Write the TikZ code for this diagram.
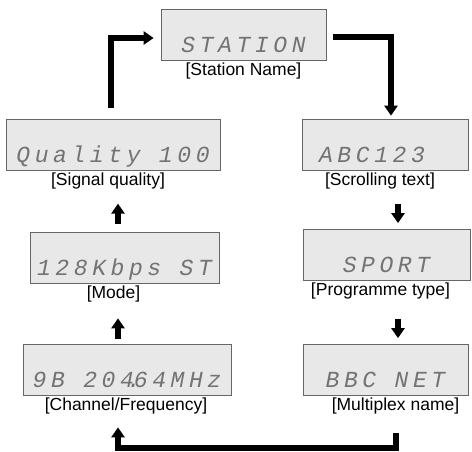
\documentclass[tikz,border=0pt]{standalone}
\usepackage{fontspec}
\setmainfont{Liberation Sans}
\newfontfamily\lcdfont[LetterSpace=20]{Liberation Mono}
\usetikzlibrary{positioning,arrows.meta,shadows}
\begin{document}
\begin{tikzpicture}[x=1pt,y=1pt,
  lcd/.style={rectangle, draw=black!60, line width=0.7pt, fill=black!9,
    drop shadow={shadow xshift=0.9pt, shadow yshift=-0.9pt, fill=black!75, opacity=1},
    inner xsep=0pt, inner ysep=0pt, text height=43pt, text depth=8pt,
    text=black!55, font=\lcdfont\fontsize{23}{23}\selectfont\itshape},
  lab/.style={inner sep=0pt, font=\fontsize{17.5}{17.5}\selectfont},
  flow/.style={line width=5.5pt, -{Triangle[width=13pt,length=10pt]}}]
\useasboundingbox (0,0) rectangle (472,451);
\node[lcd, minimum width=165pt] (station) at (243.5,416) {STATION};
\node[lcd, minimum width=214pt] (quality) at (113,306.5) {Quality 100};
\node[lcd, minimum width=166pt] (abc) at (385,306.5) {ABC123\kern26pt};
\node[lcd, minimum width=189pt] (mode) at (124.5,193.5) {128Kbps ST};
\node[lcd, minimum width=167pt] (sport) at (386.5,196) {SPORT};
\node[lcd, minimum width=208pt] (chan) at (127,81.5) {9B 204\makebox[0pt]{.}64MHz};
\node[lcd, minimum width=165pt] (multi) at (385.5,81) {BBC NET};
\node[lab, below=2pt of station] (stationlab) {[Station Name]};
\node[lab, below=2pt of quality, xshift=-5pt] (qualitylab) {[Signal quality]};
\node[lab, below=2pt of abc, xshift=-5pt] (abclab) {[Scrolling text]};
\node[lab, below=2pt of mode, xshift=-11pt] (modelab) {[Mode]};
\node[lab, below=2pt of sport, xshift=-6pt] (sportlab) {[Programme type]};
\node[lab, below=2pt of chan, xshift=-1pt] (chanlab) {[Channel/Frequency]};
\node[lab, below=2pt of multi, xshift=10pt] (multilab) {[Multiplex name]};
\draw[flow] ([xshift=-2pt,yshift=11pt]quality.north) |- ([xshift=-7pt,yshift=-3pt]station.west);
\draw[flow] ([xshift=7pt,yshift=-2pt]station.east) -| ([xshift=6pt,yshift=3pt]abc.north);
\draw[flow] ([xshift=11.5pt,yshift=25pt]sport.north) -- ([xshift=11.5pt,yshift=6pt]sport.north);
\draw[flow] ([xshift=12.5pt,yshift=25pt]multi.north) -- ([xshift=12.5pt,yshift=6pt]multi.north);
\draw[flow] ([xshift=10.5pt,yshift=-37pt]multi.south) -- ++(0,-15) -| ([xshift=-9pt,yshift=-32pt]chan.south);
\draw[flow] ([xshift=-6.5pt,yshift=-56pt]mode.south) -- ([xshift=-6.5pt,yshift=-35pt]mode.south);
\draw[flow] ([xshift=-6.5pt,yshift=8pt]mode.north) -- ([xshift=-6.5pt,yshift=28pt]mode.north);
\end{tikzpicture}
\end{document}
